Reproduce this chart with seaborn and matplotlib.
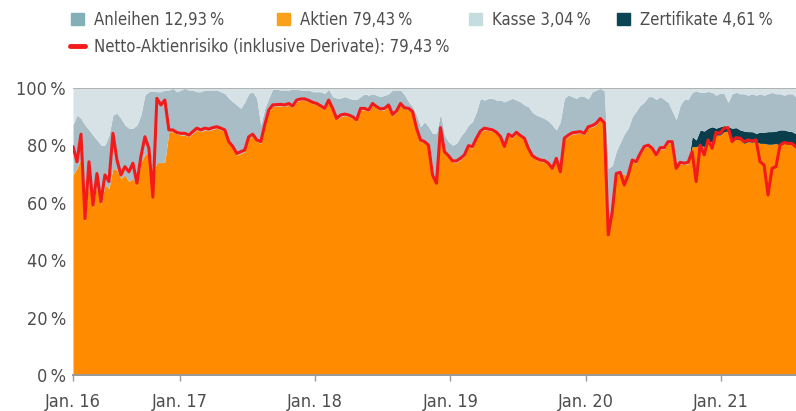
import numpy as np
import pandas as pd
import matplotlib
matplotlib.use('Agg')
import matplotlib.pyplot as plt
from matplotlib.patches import Patch
from matplotlib.lines import Line2D
import seaborn as sns

start_date, end_date = '2016-03-18', '2021-07-22'

aktien = [
    69.7, 72.0, 75.5, 53.4, 69.7, 58.0, 67.4, 59.2, 66.2, 65.0,
    72.0, 71.4, 68.5, 69.7, 67.4, 68.5, 66.0, 74.3, 76.7, 77.8,
    70.0, 74.0, 74.0, 74.3, 84.8, 84.8, 84.0, 83.6, 83.6, 83.0,
    84.2, 85.4, 84.8, 85.4, 85.1, 85.6, 86.0, 85.4, 84.8, 80.7,
    79.0, 76.6, 77.2, 77.8, 82.4, 83.3, 81.3, 80.7, 86.5, 91.8,
    93.6, 93.7, 93.8, 93.6, 94.1, 93.2, 95.3, 95.7, 95.7, 95.2,
    94.5, 94.1, 93.3, 92.4, 95.3, 92.4, 88.9, 90.1, 90.4, 90.1,
    89.5, 88.4, 92.4, 92.4, 91.8, 94.1, 93.0, 92.2, 92.4, 93.6,
    90.3, 91.5, 94.1, 92.6, 92.4, 91.3, 85.5, 81.4, 80.8, 79.6,
    69.2, 66.3, 85.7, 77.3, 75.9, 74.1, 74.1, 75.0, 76.2, 79.4,
    79.1, 82.0, 84.5, 85.5, 85.2, 84.9, 84.1, 82.6, 79.1, 83.4,
    82.6, 84.1, 82.9, 82.0, 78.5, 75.9, 75.0, 74.4, 74.2, 73.3,
    71.5, 75.0, 70.3, 82.0, 83.1, 83.9, 84.1, 84.3, 83.7, 86.0,
    86.4, 87.2, 88.9, 87.4, 48.3, 56.4, 69.7, 70.1, 70.0, 69.2,
    74.4, 73.8, 76.7, 79.1, 79.6, 78.5, 76.2, 78.7, 78.7, 80.8,
    80.8, 74.0, 73.6, 73.3, 73.6, 79.6, 79.6, 79.9, 79.6, 81.3,
    81.3, 83.6, 83.6, 84.8, 85.0, 81.3, 82.2, 81.9, 80.7, 81.3,
    81.1, 81.3, 80.7, 80.7, 80.4, 80.4, 80.7, 79.9, 80.7, 80.4,
    80.4, 79.43,
]

netto = [
    79.6, 74.3, 83.9, 54.5, 74.3, 59.2, 70.2, 60.4, 69.7, 67.4,
    84.2, 75.0, 69.7, 72.6, 70.8, 73.8, 66.8, 76.1, 83.0, 79.0,
    62.0, 96.4, 94.1, 95.8, 85.4, 85.4, 84.5, 84.2, 84.2, 83.6,
    84.8, 86.0, 85.4, 86.0, 85.7, 86.2, 86.5, 86.0, 85.4, 81.3,
    79.6, 77.2, 77.8, 78.4, 83.0, 83.9, 81.9, 81.3, 87.1, 92.3,
    94.1, 94.2, 94.3, 94.1, 94.6, 93.7, 95.8, 96.2, 96.2, 95.7,
    95.0, 94.6, 93.8, 92.9, 95.8, 92.9, 89.4, 90.6, 90.9, 90.6,
    90.0, 88.9, 92.9, 92.9, 92.3, 94.6, 93.5, 92.7, 92.9, 94.1,
    90.8, 92.0, 94.6, 93.1, 92.9, 91.8, 86.0, 81.9, 81.3, 80.1,
    69.7, 66.8, 86.2, 77.8, 76.4, 74.6, 74.6, 75.5, 76.7, 79.9,
    79.6, 82.5, 85.0, 86.0, 85.7, 85.4, 84.6, 83.1, 79.6, 83.9,
    83.1, 84.6, 83.4, 82.5, 79.0, 76.4, 75.5, 74.9, 74.7, 73.8,
    72.0, 75.5, 70.8, 82.5, 83.6, 84.4, 84.6, 84.8, 84.2, 86.5,
    86.9, 87.7, 89.4, 87.9, 48.8, 56.9, 70.2, 70.6, 66.2, 69.7,
    74.9, 74.3, 77.2, 79.6, 80.1, 79.0, 76.7, 79.2, 79.2, 81.3,
    81.3, 72.0, 74.1, 73.8, 74.1, 77.8, 67.4, 80.1, 76.7, 81.9,
    79.0, 84.6, 84.2, 86.0, 86.2, 81.3, 82.7, 82.5, 81.3, 81.9,
    81.5, 81.9, 74.3, 73.2, 62.7, 72.0, 72.6, 80.1, 81.0, 80.7,
    80.7, 79.43,
]

kasse = [
    12.9, 9.4, 10.6, 12.9, 14.6, 16.4, 18.1, 19.9, 19.9, 16.4,
    9.4, 8.8, 10.6, 12.9, 14.0, 14.0, 12.9, 9.4, 2.4, 1.3,
    1.0, 1.3, 1.3, 0.7, 0.7, 0.1, 1.3, 0.7, 0.1, 0.7,
    0.7, 1.3, 1.3, 0.7, 0.7, 0.7, 0.7, 1.3, 1.9, 3.6,
    4.8, 5.9, 7.1, 4.8, 1.9, 1.3, 3.6, 12.9, 7.1, 3.6,
    0.4, 0.4, 0.7, 0.7, 0.7, 0.4, 0.4, 0.7, 0.7, 0.7,
    1.3, 1.3, 1.3, 1.9, 0.4, 3.0, 3.5, 3.5, 3.0, 3.5,
    4.0, 4.0, 3.0, 2.0, 2.5, 2.0, 2.5, 3.0, 2.5, 2.0,
    0.7, 0.7, 0.7, 2.4, 4.8, 6.5, 9.4, 13.5, 11.7, 13.5,
    15.8, 15.8, 8.8, 16.4, 18.7, 19.9, 19.3, 16.9, 15.2, 12.9,
    11.7, 8.2, 3.6, 4.2, 3.6, 3.6, 4.2, 4.2, 4.8, 4.2,
    3.6, 4.2, 4.8, 5.9, 6.5, 8.5, 9.4, 10.0, 10.6, 11.5,
    12.9, 14.6, 11.7, 3.6, 2.4, 3.0, 3.6, 2.7, 3.0, 3.8,
    1.3, 0.7, 0.1, 1.0, 28.0, 27.0, 22.0, 19.0, 16.0, 14.0,
    10.0, 8.0, 6.0, 5.0, 3.0, 3.0, 4.0, 3.0, 4.0, 5.0,
    8.0, 11.0, 6.0, 4.0, 4.0, 1.5, 1.0, 1.5, 1.5, 1.2,
    1.5, 2.5, 1.8, 2.0, 5.0, 2.0, 1.5, 2.0, 2.0, 2.5,
    2.0, 2.5, 2.0, 2.5, 2.0, 1.5, 2.0, 2.0, 2.5, 2.0,
    2.0, 3.04,
]

# Zertifikate erst ab Herbst 2020 im Portfolio
zertifikate = [0.0] * 155 + [
    3.5, 2.3, 5.5, 5.4, 4.7, 5.2, 2.4, 2.9, 2.1, 1.5,
    4.7, 4.0, 3.5, 4.3, 3.5, 3.7, 2.9, 3.9, 3.9, 4.4,
    4.4, 4.3, 5.5, 4.7, 4.6, 4.4, 4.61,
]

tick_dates = ['2016-03-18', '2017-01-01', '2018-01-01', '2019-01-01', '2020-01-01', '2021-01-01']
tick_labels = ['Jan. 16', 'Jan. 17', 'Jan. 18', 'Jan. 19', 'Jan. 20', 'Jan. 21']
y_ticks = [0, 20, 40, 60, 80, 100]

legend_labels = ['Anleihen 12,93\u2009%', 'Aktien 79,43\u2009%', 'Kasse 3,04\u2009%', 'Zertifikate 4,61\u2009%']
netto_label = 'Netto-Aktienrisiko (inklusive Derivate): 79,43\u2009%'

df = pd.DataFrame({
    'datum': pd.date_range(start_date, end_date, periods=len(aktien)),
    'aktien': aktien,
    'zertifikate': zertifikate,
    'kasse': kasse,
    'netto': netto,
})
df['anleihen'] = 100 - df['aktien'] - df['zertifikate'] - df['kasse']

sns.set_theme(style='white')
plt.rcParams['font.family'] = ['DejaVu Sans']
plt.rcParams['font.stretch'] = 'condensed'

c_aktien, c_zert, c_anl, c_kasse = '#FF8C00', '#0B3E4D', '#A9BDC6', '#D7E2E7'
c_red = '#F21A1A'
txt = '#4D4D4D'

fig = plt.figure(figsize=(7.96, 4.11), dpi=100)
ax = fig.add_axes([73 / 796, 36 / 411, 723 / 796, 287 / 411])

ax.stackplot(df['datum'], df['aktien'], df['zertifikate'], df['anleihen'], df['kasse'],
             colors=[c_aktien, c_zert, c_anl, c_kasse], linewidth=0)
sns.lineplot(data=df, x='datum', y='netto', color=c_red, linewidth=2.2, ax=ax, zorder=5)
ax.axhline(100, color='#A6A6A6', lw=1.2, zorder=6)

ax.set_xlim(df['datum'].iloc[0], df['datum'].iloc[-1])
ax.set_ylim(0, 100)
ax.set_yticks(y_ticks)
ax.set_yticklabels([f'{v}\u2009%' for v in y_ticks])
ax.set_xticks(pd.to_datetime(tick_dates))
ax.set_xticklabels(tick_labels)
ax.set_xlabel('')
ax.set_ylabel('')

for s in ['left', 'right', 'top']:
    ax.spines[s].set_visible(False)
ax.spines['bottom'].set_color('#9A9A9A')
ax.spines['bottom'].set_linewidth(1.4)
ax.spines['bottom'].set_zorder(7)

ax.tick_params(axis='x', bottom=True, length=4, width=1, color='#9A9A9A', pad=9, labelsize=13, labelcolor=txt)
ax.tick_params(axis='y', left=False, length=0, pad=5, labelsize=13, labelcolor=txt)

legend_items = [
    (Patch(color='#82B0B6'), legend_labels[0], 71, 20),
    (Patch(color='#F9A11B'), legend_labels[1], 277, 20),
    (Patch(color='#C6DDE0'), legend_labels[2], 469, 20),
    (Patch(color='#0C4556'), legend_labels[3], 617, 20),
]
for h, lab, x, y in legend_items:
    fig.legend(handles=[h], labels=[lab], loc='center left', bbox_to_anchor=(x / 796, 1 - y / 411),
               frameon=False, fontsize=12, handlelength=0.75, handleheight=0.75, handletextpad=0.65,
               borderpad=0, borderaxespad=0, labelcolor=txt)

fig.legend(handles=[Line2D([], [], color=c_red, lw=3.5)], labels=[netto_label], loc='center left',
           bbox_to_anchor=(70 / 796, 1 - 47 / 411), frameon=False, fontsize=12, handlelength=0.9,
           handletextpad=0.55, borderpad=0, borderaxespad=0, labelcolor=txt)

fig.savefig('out.png', dpi=100)
plt.close(fig)
